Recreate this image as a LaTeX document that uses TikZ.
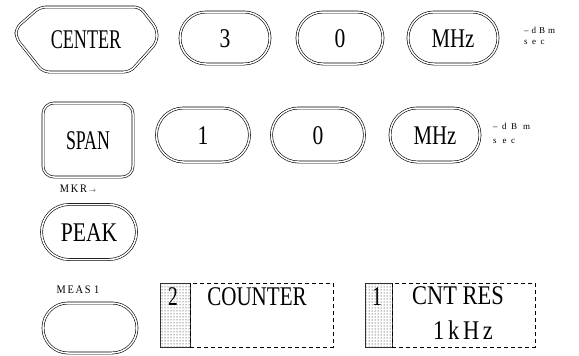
\documentclass[tikz,border=0pt]{standalone}
\usepackage{fontspec}
\setmainfont{Liberation Serif}
\usepackage{graphicx}
\usetikzlibrary{patterns,shapes.misc}
\newcommand{\lbl}[2]{\scalebox{#1}[1]{#2}}
\begin{document}
\begin{tikzpicture}[x=1pt,y=-1pt,
  btn/.style={draw, double, double distance=1.5pt, line width=0.6pt},
  stad/.style={btn, rounded rectangle, minimum width=#1, minimum height=52pt, inner sep=0pt},
  big/.style={font=\fontsize{27}{27}\selectfont, inner sep=0pt},
  small/.style={font=\fontsize{9}{9}\selectfont, inner sep=0pt},
  tag/.style={font=\fontsize{11.5}{11.5}\selectfont, inner sep=0pt},
  shade/.style={draw=black!80, line width=0.7pt, pattern=dots, pattern color=black, minimum width=30pt, minimum height=64pt, anchor=north west, inner sep=0pt},
  disp/.style={draw, dashed, dash pattern=on 4pt off 3pt, line width=0.6pt, minimum height=64pt, anchor=north west, inner sep=0pt}
]
\useasboundingbox (0,0) rectangle (579,356);
% Row 1
\draw[btn, rounded corners=6pt] (90,7) -- (140,7) -- (157,29) -- (157,42) -- (130,72) -- (43,72) -- (16,38) -- (16,28) -- (40,7) -- cycle;
\node[big] (centerlbl) at (86,40) {\lbl{0.67}{CENTER}};
\node[stad=90pt] (k3) at (225,38) {};
\node[big] (k3l) at (225,39) {\lbl{0.8}{3}};
\node[stad=86pt] (k0a) at (340,38) {};
\node[big] (k0al) at (340,39) {\lbl{0.8}{0}};
\node[stad=90pt] (mhza) at (453,38) {};
\node[big] (mhzal) at (453,39) {\lbl{0.77}{MHz}};
\node[small, anchor=west] (unita1) at (524,30) {–\,\,d\,\,B\,\,m};
\node[small, anchor=west] (unita2) at (524,42) {s\,\,\,e\,\,\,c};
% Row 2
\node[btn, rounded corners=11pt, minimum width=90pt, minimum height=74pt, inner sep=0pt] (span) at (88,140) {};
\node[big] (spanl) at (88,141) {\lbl{0.66}{SPAN}};
\node[stad=93pt, minimum height=54pt] (k1) at (203,135) {};
\node[big] (k1l) at (203,136) {\lbl{0.8}{1}};
\node[stad=93pt, minimum height=54pt] (k0b) at (318,135) {};
\node[big] (k0bl) at (318,136) {\lbl{0.8}{0}};
\node[stad=90pt, minimum height=54pt] (mhzb) at (435,135) {};
\node[big] (mhzbl) at (435,136) {\lbl{0.77}{MHz}};
\node[small, anchor=west] (unitb1) at (493,126) {–\,\,\,d\,\,\,B\,\,\,\,m};
\node[small, anchor=west] (unitb2) at (493,141) {s\,\,\,\,e\,\,\,c};
% Row 3
\node[tag] (mkr) at (78,189) {\lbl{0.9}{M\,K\,R}\,\raisebox{0.5pt}{\scalebox{0.6}{$\rightarrow$}}};
\node[stad=95pt, minimum height=55pt] (peak) at (89,232) {};
\node[big] (peakl) at (89,233) {\lbl{0.8}{PEAK}};
% Row 4
\node[tag] (meas) at (78,290) {\lbl{0.9}{M\,E\,A\,S\,\,1}};
\node[stad=94pt, minimum height=50pt] (measb) at (90,328) {};
% Displays
\node[shade] (s2) at (160,283) {};
\node[disp, minimum width=143pt] (d2) at (190,283) {};
\node[big] (s2l) at (173,297) {\lbl{0.72}{2}};
\node[big] (counter) at (257,297) {\lbl{0.78}{COUNTER}};
\node[shade, minimum width=27pt] (s1) at (365,283) {};
\node[disp, minimum width=143pt] (d1) at (392,283) {};
\node[big] (s1l) at (377,297) {\lbl{0.72}{1}};
\node[big] (cntres) at (458,296) {\lbl{0.83}{CNT RES}};
\node[big] (khz) at (463,330) {\lbl{0.83}{1\,k\,H\,z}};
\end{tikzpicture}
\end{document}
